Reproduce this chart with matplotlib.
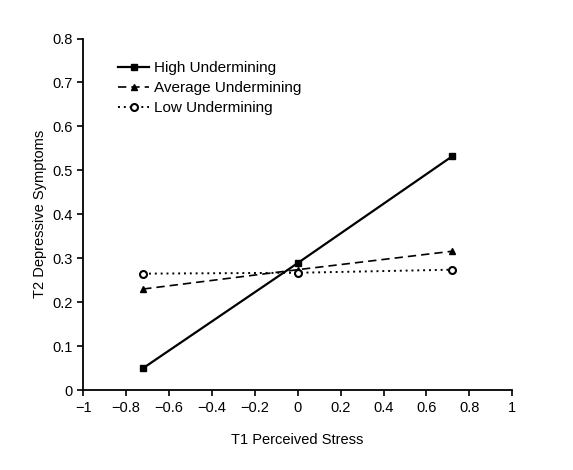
import matplotlib
matplotlib.use("Agg")
import matplotlib.pyplot as plt

plt.rcParams['font.family'] = ['Liberation Sans', 'DejaVu Sans']

stress = [-0.72, 0.0, 0.72]
high = [0.05, 0.289, 0.532]
average = [0.23, 0.274, 0.316]
low = [0.265, 0.267, 0.274]

xticks = [-1, -0.8, -0.6, -0.4, -0.2, 0, 0.2, 0.4, 0.6, 0.8, 1]
yticks = [0, 0.1, 0.2, 0.3, 0.4, 0.5, 0.6, 0.7, 0.8]

fig = plt.figure(figsize=(5.73, 4.70), dpi=100)
ax = fig.add_axes([0.145, 0.170, 0.749, 0.748])

ax.plot(stress, high, color='black', linestyle='-', linewidth=1.6,
        marker='s', markersize=5, label='High Undermining')
ax.plot(stress, average, color='black', linestyle=(0, (5, 3)), linewidth=1.2,
        marker='^', markersize=5, label='Average Undermining')
ax.plot(stress, low, color='black', linestyle=(0, (1, 2)), linewidth=1.4,
        marker='o', markersize=5, markerfacecolor='white', markeredgewidth=1.5,
        label='Low Undermining')

ax.set_xlim(-1, 1)
ax.set_ylim(0, 0.8)
ax.set_xticks(xticks)
ax.set_xticklabels([f"{t:g}".replace('-', '\u2212') for t in xticks])
ax.set_yticks(yticks)
ax.set_yticklabels([f"{t:g}" for t in yticks])
ax.tick_params(direction='out', length=4, width=1.2, labelsize=10.5)
for side in ['top', 'right']:
    ax.spines[side].set_visible(False)
for side in ['left', 'bottom']:
    ax.spines[side].set_linewidth(1.3)

ax.set_xlabel("T1 Perceived Stress", fontsize=10.5, labelpad=13)
ax.set_ylabel("T2 Depressive Symptoms", fontsize=10.5, labelpad=4)

ax.legend(loc='upper left', bbox_to_anchor=(0.05, 0.975), frameon=False,
          fontsize=11, handlelength=2.0, labelspacing=0.4, handletextpad=0.35)

fig.savefig('out.png', dpi=100)
